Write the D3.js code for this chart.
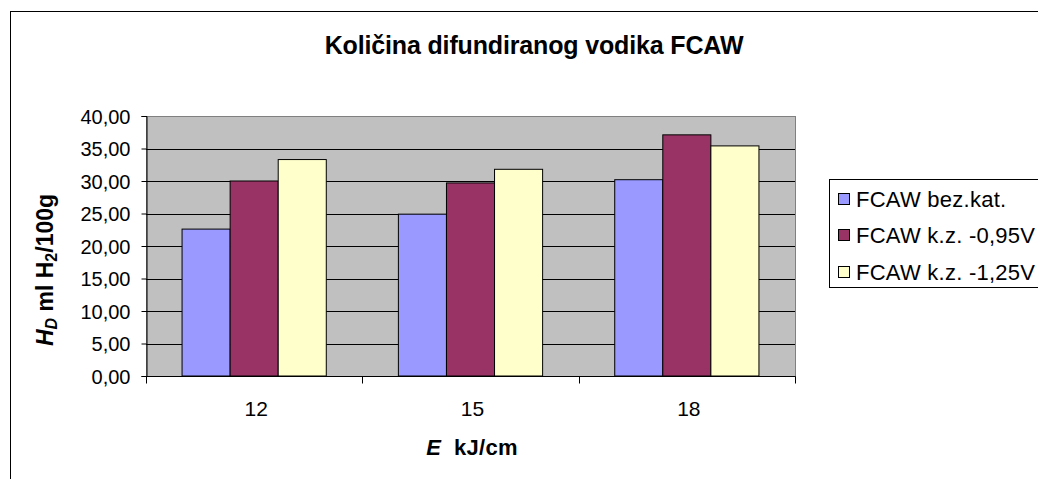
<!DOCTYPE html>
<html>
<head>
<meta charset="utf-8">
<script src="https://cdn.jsdelivr.net/npm/d3@7"></script>
<style>
  html, body { margin: 0; padding: 0; background: #fff; }
  svg { display: block; font-family: "Liberation Sans", Arial, sans-serif; }
</style>
</head>
<body>
<svg id="chart" width="1038" height="479"></svg>
<script>
// Heat input categories (kJ/cm)
const categories = ["12", "15", "18"];
// Series names
const seriesNames = ["FCAW bez.kat.", "FCAW k.z. -0,95V", "FCAW k.z. -1,25V"];
// Diffusible hydrogen, ml H2/100g, per series
const bezKat = [22.6, 24.9, 30.2];
const kz095 = [30.0, 29.7, 37.1];
const kz125 = [33.3, 31.8, 35.4];
const seriesValues = [bezKat, kz095, kz125];
const seriesColors = ["#9999FF", "#993366", "#FFFFCC"];
// Value axis ticks
const yTicks = [0, 5, 10, 15, 20, 25, 30, 35, 40];

const svg = d3.select("#chart");

// Outer chart frame
svg.append("rect")
  .attr("x", 10.5).attr("y", 11.5)
  .attr("width", 1100).attr("height", 600)
  .attr("fill", "#fff").attr("stroke", "#000").attr("stroke-width", 1);

const plot = { left: 146, right: 795, top: 116, bottom: 376 };

const x0 = d3.scaleBand().domain(categories).range([plot.left, plot.right]).paddingInner(0).paddingOuter(0);
// Three touching bars per group, half of a 150% gap on each side
const x1 = d3.scaleBand().domain(d3.range(seriesNames.length))
  .range([0, x0.bandwidth()]).paddingInner(0).paddingOuter(0.75);
const y = d3.scaleLinear().domain([0, 40]).range([plot.bottom, plot.top]);

// Plot background
svg.append("rect")
  .attr("x", plot.left + 0.5).attr("y", plot.top + 0.5)
  .attr("width", plot.right - plot.left).attr("height", plot.bottom - plot.top)
  .attr("fill", "#C0C0C0").attr("stroke", "#808080").attr("stroke-width", 1);

// Horizontal gridlines
svg.append("g").selectAll("line").data(yTicks.filter(d => d > 0 && d < 40)).join("line")
  .attr("x1", plot.left).attr("x2", plot.right)
  .attr("y1", d => Math.round(y(d)) + 0.5).attr("y2", d => Math.round(y(d)) + 0.5)
  .attr("stroke", "#000").attr("stroke-width", 1);

// Bars
const groups = svg.append("g").selectAll("g").data(categories).join("g")
  .attr("transform", d => `translate(${x0(d)},0)`);
groups.selectAll("rect")
  .data((c, i) => seriesValues.map((vals, s) => ({ s, v: vals[i] })))
  .join("rect")
  .attr("x", d => x1(d.s))
  .attr("width", x1.bandwidth())
  .attr("y", d => y(d.v))
  .attr("height", d => y(0) - y(d.v))
  .attr("fill", d => seriesColors[d.s])
  .attr("stroke", "#000").attr("stroke-width", 1);

// Y axis
const yAxis = svg.append("g")
  .attr("transform", `translate(${plot.left + 0.5},0)`)
  .call(d3.axisLeft(y).tickValues(yTicks).tickSize(5).tickPadding(11)
    .tickFormat(d => d3.format(".2f")(d).replace(".", ",")));
yAxis.select(".domain").attr("stroke", "#000");
yAxis.selectAll(".tick line").attr("stroke", "#000");
yAxis.selectAll(".tick text")
  .attr("font-size", 20).attr("font-family", "Liberation Sans, Arial, sans-serif")
  .attr("fill", "#000").attr("dy", "0.36em").attr("letter-spacing", 0);

// X axis with ticks at group boundaries
const xAxis = svg.append("g").attr("transform", `translate(0,${plot.bottom + 0.5})`);
xAxis.append("line")
  .attr("x1", plot.left).attr("x2", plot.right + 0.5)
  .attr("stroke", "#000");
const boundaries = categories.map(c => x0(c)).concat([plot.right]);
xAxis.selectAll("line.tk").data(boundaries).join("line").attr("class", "tk")
  .attr("x1", d => Math.round(d) + 0.5).attr("x2", d => Math.round(d) + 0.5)
  .attr("y1", 0).attr("y2", 7).attr("stroke", "#000");
xAxis.selectAll("text").data(categories).join("text")
  .attr("x", d => x0(d) + x0.bandwidth() / 2 + 2)
  .attr("y", 39)
  .attr("text-anchor", "middle")
  .attr("font-size", 21).attr("fill", "#000")
  .text(d => d);

// Title
svg.append("text")
  .attr("x", 534).attr("y", 54)
  .attr("text-anchor", "middle")
  .attr("font-size", 25).attr("font-weight", "bold")
  .attr("letter-spacing", -0.15)
  .text("Količina difundiranog vodika FCAW");

// X axis title
const xt = svg.append("text")
  .attr("x", 472).attr("y", 455)
  .attr("text-anchor", "middle")
  .attr("font-size", 22).attr("font-weight", "bold").attr("letter-spacing", 0.3)
  .attr("xml:space", "preserve");
xt.append("tspan").attr("font-style", "italic").text("E");
xt.append("tspan").text("  kJ/cm");

// Y axis title
const yt = svg.append("text")
  .attr("transform", `translate(53,270) rotate(-90)`)
  .attr("text-anchor", "middle")
  .attr("font-size", 23).attr("font-weight", "bold").attr("letter-spacing", 0);
yt.append("tspan").attr("font-style", "italic").text("H");
yt.append("tspan").attr("font-style", "italic").attr("font-size", 16).attr("dy", 4).text("D");
yt.append("tspan").attr("dy", -4).text(" ml H");
yt.append("tspan").attr("font-size", 16).attr("dy", 4).text("2");
yt.append("tspan").attr("dy", -4).text("/100g");

// Legend
const legend = svg.append("g");
legend.append("rect")
  .attr("x", 829.5).attr("y", 179.5).attr("width", 260).attr("height", 108)
  .attr("fill", "#fff").attr("stroke", "#000");
const rowY = [199, 235, 272];
const items = legend.selectAll("g.item").data(seriesNames).join("g").attr("class", "item")
  .attr("transform", (d, i) => `translate(0,${rowY[i]})`);
items.append("rect")
  .attr("x", 838.5).attr("y", -5.5).attr("width", 11).attr("height", 11)
  .attr("fill", (d, i) => seriesColors[i]).attr("stroke", "#000");
items.append("text")
  .attr("x", 856).attr("y", 0).attr("dy", "0.36em")
  .attr("font-size", 22).attr("letter-spacing", 0.25)
  .text(d => d);
</script>
</body>
</html>
